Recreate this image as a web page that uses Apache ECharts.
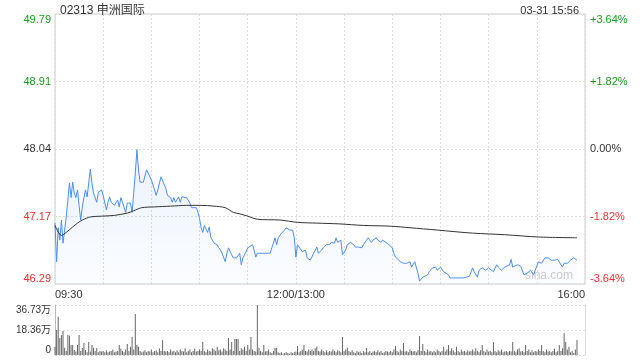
<!DOCTYPE html>
<html>
<head>
<meta charset="utf-8">
<script src="https://cdn.jsdelivr.net/npm/echarts@6/dist/echarts.min.js"></script>
<style>html,body{margin:0;padding:0;background:#fff;}#c{width:640px;height:360px;}</style>
</head>
<body>
<div id="c"></div>
<script>
const title = '02313 申洲国际';
const stamp = '03-31 15:56';
const prevClose = 48.04;
const xTickLabels = { 0: '09:30', 150: '12:00/13:00', 330: '16:00' };
const volTickLabels = ['0', '18.36万', '36.73万'];

// trading minute index (0 = 09:30, 150 = 12:00/13:00, 330 = 16:00)
const priceMinutes = [0,1,2,3,4,5,6,7,8,9,10,11,12,13,14,15,16,17,18,19,20,22,23,24,26,27,29,30,32,33,34,35,37,39,40,41,42,44,45,47,48,49,50,51,52,53,55,57,58,60,62,63,64,66,67,69,70,72,73,74,75,77,78,79,82,83,84,85,88,89,90,91,92,93,95,96,97,98,99,101,102,103,104,106,107,108,110,111,113,115,116,117,119,120,123,124,125,126,129,130,132,134,135,136,137,138,139,141,143,144,146,148,149,150,151,152,154,155,156,157,159,161,162,163,164,166,167,169,171,172,174,175,176,178,179,181,182,184,186,187,189,191,192,194,195,197,198,200,201,203,204,206,208,210,211,212,213,215,217,218,219,221,222,224,226,227,229,232,233,235,237,238,240,242,243,245,246,248,250,252,254,256,258,260,261,263,264,266,268,270,271,273,275,276,278,280,281,283,284,285,288,290,291,292,294,296,298,299,301,303,305,307,309,311,313,314,316,317,319,321,323,324,325];
const prices = [47.08,46.58,47.02,46.86,47.12,46.82,46.82,47.16,47.38,47.60,47.41,47.61,47.47,47.41,47.51,47.31,47.12,47.29,47.41,47.51,47.42,47.78,47.60,47.47,47.35,47.48,47.51,47.44,47.25,47.35,47.42,47.35,47.31,47.38,47.29,47.41,47.35,47.22,47.34,47.34,47.22,47.47,47.73,48.03,47.77,47.61,47.61,47.77,47.73,47.64,47.51,47.44,47.51,47.68,47.66,47.53,47.44,47.41,47.35,47.41,47.35,47.42,47.35,47.42,47.41,47.41,47.34,47.28,47.28,47.22,47.14,47.02,46.96,47.05,46.96,47.03,46.90,46.89,46.82,46.80,46.76,46.73,46.69,46.58,46.69,46.76,46.67,46.63,46.63,46.69,46.54,46.63,46.71,46.76,46.80,46.73,46.64,46.69,46.69,46.67,46.69,46.69,46.76,46.82,46.89,46.80,46.89,46.95,46.99,47.02,46.99,46.99,46.89,46.64,46.80,46.80,46.71,46.69,46.73,46.63,46.60,46.69,46.71,46.77,46.69,46.73,46.76,46.80,46.80,46.83,46.82,46.89,46.83,46.86,46.67,46.73,46.80,46.83,46.80,46.77,46.77,46.76,46.80,46.86,46.89,46.83,46.86,46.89,46.86,46.83,46.86,46.83,46.80,46.76,46.69,46.64,46.64,46.58,46.56,46.58,46.56,46.58,46.51,46.58,46.43,46.33,46.38,46.41,46.45,46.50,46.51,46.47,46.51,46.45,46.47,46.41,46.37,46.37,46.37,46.37,46.37,46.38,46.39,46.50,46.45,46.38,46.47,46.50,46.47,46.50,46.51,46.45,46.54,46.51,46.47,46.51,46.51,46.54,46.61,46.51,46.54,46.52,46.54,46.41,46.43,46.47,46.41,46.47,46.58,46.56,46.63,46.63,46.60,46.60,46.61,46.60,46.51,46.56,46.56,46.60,46.63,46.61,46.60];

const avgMinutes = [0,4,7,11,14,17,22,29,37,45,49,54,62,72,82,91,99,106,111,115,120,126,140,151,163,177,192,209,221,238,260,280,301,325];
const avgPrices = [47.05,46.92,46.96,47.03,47.08,47.12,47.16,47.17,47.18,47.21,47.24,47.28,47.29,47.30,47.31,47.31,47.30,47.28,47.22,47.20,47.17,47.13,47.12,47.09,47.08,47.07,47.05,47.04,47.02,46.99,46.95,46.93,46.90,46.89];

// volume per trading minute, in 万 shares
const volume = [
6,18.4,28.1,12.5,14.7,17.6,5.4,3.0,14.7,14.2,
7.3,7.3,3.7,2.5,7.3,14.7,3.0,5.1,8.8,3.7,
2.0,9.5,2.5,7.3,5.4,3.0,5.1,2.0,3.0,2.5,
3.0,2.0,3.5,2.0,2.5,3.0,4.0,2.0,2.5,3.0,
7.3,4.5,3.0,2.0,4.0,8.0,3.0,6.0,13.2,4.0,
30.1,7.3,6.0,3.0,2.0,2.5,3.5,2.0,3.0,2.5,
4.0,2.0,3.0,3.5,2.0,5.0,3.0,11.0,3.0,2.5,
3.0,2.0,4.0,2.5,3.0,2.0,3.5,2.0,4.0,3.0,
2.5,5.0,2.0,3.0,4.0,2.0,3.0,4.5,2.5,3.0,
4.0,3.0,9.5,3.0,2.0,4.0,3.0,2.5,5.0,4.0,
3.0,6.0,3.5,4.0,2.5,5.0,4.0,3.0,12.5,4.0,
9.5,3.0,11.7,11.7,11.7,3.0,5.0,4.0,6.0,3.0,
7.3,4.0,13.2,4.0,3.0,2.5,36.73,5.1,3.0,2.0,
7.3,2.5,3.0,4.0,2.0,1.5,3.0,5.1,5.1,2.0,
1.5,2.0,1.0,1.5,2.0,1.5,1.0,2.0,1.5,2.0,
2.5,6.6,2.0,3.0,4.0,7.3,3.0,2.5,4.0,3.0,
4.0,3.0,5.0,6.0,3.0,2.5,4.0,3.0,2.0,3.5,
2.0,3.0,2.5,4.0,3.0,2.0,3.5,3.0,2.0,13.2,
3.0,4.0,5.4,3.0,2.0,3.5,2.0,1.5,3.0,2.0,
2.5,1.5,3.0,2.0,5.1,2.0,3.0,1.5,2.5,3.0,
2.0,3.5,2.0,3.0,1.5,2.0,3.0,2.5,2.0,3.0,
2.0,4.0,6.6,3.0,2.0,4.0,3.0,8.8,2.5,3.0,
2.0,4.0,3.0,2.5,3.0,2.0,3.5,14.0,3.0,8.0,
3.0,2.0,4.0,2.5,3.0,2.0,3.0,2.0,4.0,3.0,
2.0,3.0,6.0,2.5,4.0,7.3,3.0,5.0,3.5,2.0,
6.0,3.0,2.0,4.0,2.5,3.0,2.0,3.5,2.5,3.0,
4.0,2.5,5.0,3.0,2.0,3.5,7.3,3.0,2.0,4.0,
2.5,3.0,2.0,9.5,3.0,2.0,3.5,2.5,4.0,2.0,
2.5,3.0,2.0,3.0,2.5,9.5,3.0,2.0,4.0,5.0,
2.5,3.0,2.0,7.3,3.0,4.0,2.0,3.5,2.0,3.0,
2.5,4.0,3.0,7.3,3.0,2.0,4.0,2.5,3.0,2.0,
3.0,4.5,2.0,3.0,7.3,3.0,5.0,16.2,9.5,4.0,
6.0,2.0,3.0,1.5,4.0,11.0];

const GREEN = '#1a9a1a', RED = '#f33333', DARK = '#333333';
const FONT = 'Arial, "Liberation Sans", "Noto Sans CJK SC", sans-serif';
const pct = p => (p / prevClose - 1) * 100;
const sideColor = v => (v > 0.001 ? GREEN : (v < -0.001 ? RED : DARK));

const chart = echarts.init(document.getElementById('c'), null, { renderer: 'canvas' });
chart.setOption({
  animation: false,
  backgroundColor: '#fff',
  textStyle: { fontFamily: FONT },
  title: [
    { text: title, left: 55, top: 0, textStyle: { fontSize: 12, fontWeight: 'normal', color: DARK, fontFamily: FONT } },
    { text: stamp, right: 56, top: 0, textStyle: { fontSize: 11, fontWeight: 'normal', color: DARK, fontFamily: FONT } }
  ],
  graphic: [
    { type: 'text', right: 67, top: 270, style: { text: 'sina.com', fill: '#cccccc', fontSize: 12, fontFamily: FONT } }
  ],
  grid: [
    { left: 55, right: 55, top: 14, height: 270, show: true, borderColor: '#cccccc', borderWidth: 1 },
    { left: 55, right: 55, top: 305, height: 50 }
  ],
  xAxis: [
    { type: 'value', gridIndex: 0, min: 0, max: 330, interval: 30,
      axisLine: { show: false }, axisTick: { show: false },
      splitLine: { show: true, lineStyle: { color: '#dddddd', type: [2, 2] } },
      axisLabel: { show: true, color: DARK, fontSize: 11, margin: 5, showMinLabel: true, showMaxLabel: true,
        alignMinLabel: 'left', alignMaxLabel: 'right',
        formatter: v => xTickLabels[v] || '' } },
    { type: 'value', gridIndex: 1, min: 0, max: 330, interval: 30,
      axisLine: { show: false }, axisTick: { show: false }, axisLabel: { show: false }, splitLine: { show: false } }
  ],
  yAxis: [
    { type: 'value', gridIndex: 0, position: 'left', min: -3.64, max: 3.64, interval: 1.82,
      axisLine: { show: false }, axisTick: { show: false },
      splitLine: { show: true, lineStyle: { color: '#dddddd', type: [2, 2] } },
      axisLabel: { fontSize: 11, margin: 4, verticalAlignMinLabel: 'bottom', verticalAlignMaxLabel: 'top',
        color: v => sideColor(v),
        formatter: v => (prevClose * (1 + v / 100)).toFixed(2) } },
    { type: 'value', gridIndex: 0, position: 'right', min: -3.64, max: 3.64, interval: 1.82,
      axisLine: { show: false }, axisTick: { show: false }, splitLine: { show: false },
      axisLabel: { fontSize: 11, margin: 5, verticalAlignMinLabel: 'bottom', verticalAlignMaxLabel: 'top',
        color: v => sideColor(v),
        formatter: v => (v > 0.001 ? '+' : '') + v.toFixed(2) + '%' } },
    { type: 'value', gridIndex: 1, position: 'left', min: 0, max: 36.73, interval: 36.73 / 2,
      axisLine: { show: true, lineStyle: { color: '#bbbbbb' } }, axisTick: { show: false },
      splitLine: { show: true, lineStyle: { color: '#dddddd', type: [2, 2] } },
      axisLabel: { fontSize: 10, margin: 4, color: DARK, verticalAlignMinLabel: 'bottom', verticalAlignMaxLabel: 'top',
        formatter: (v, i) => volTickLabels[i] } },
    { type: 'value', gridIndex: 1, position: 'right', min: 0, max: 36.73, interval: 36.73 / 2,
      axisLine: { show: true, lineStyle: { color: '#dddddd' } }, axisTick: { show: false },
      axisLabel: { show: false }, splitLine: { show: false } }
  ],
  series: [
    { type: 'line', xAxisIndex: 0, yAxisIndex: 0, symbol: 'none',
      data: prices.map((p, i) => [priceMinutes[i], pct(p)]),
      lineStyle: { color: '#4d8ef5', width: 1 },
      areaStyle: { origin: 'start', color: new echarts.graphic.LinearGradient(0, 0, 0, 1, [
        { offset: 0, color: 'rgba(77,142,245,0.16)' }, { offset: 1, color: 'rgba(77,142,245,0.03)' }]) } },
    { type: 'line', xAxisIndex: 0, yAxisIndex: 0, symbol: 'none', smooth: 0.3,
      data: avgPrices.map((p, i) => [avgMinutes[i], pct(p)]),
      lineStyle: { color: '#333333', width: 1 } },
    { type: 'bar', xAxisIndex: 1, yAxisIndex: 2, barWidth: 1,
      data: volume.map((v, i) => [i, v]),
      itemStyle: { color: '#666666' } }
  ]
});
</script>
</body>
</html>
